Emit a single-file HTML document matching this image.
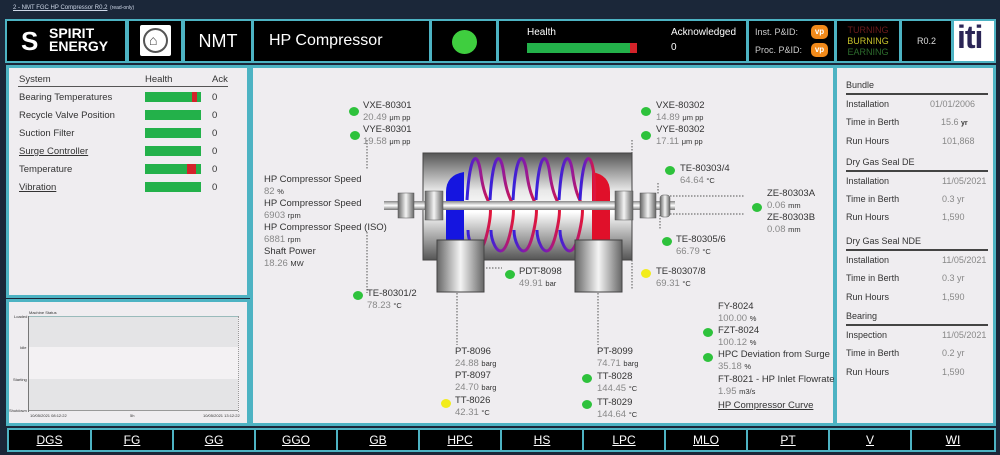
<!DOCTYPE html>
<html><head><meta charset="utf-8"><style>
*{margin:0;padding:0;box-sizing:border-box}
body{width:1000px;height:455px;background:#1b2739;font-family:"Liberation Sans",sans-serif;position:relative;overflow:hidden}
.a{position:absolute}
.hb{position:absolute;background:#000;border:2px solid #4db3c3;top:19px;height:44px;color:#fff}
.pn{position:absolute;background:#efedf0;border:3px solid #4db3c3}
.t{position:absolute;font-size:9.5px;color:#333;line-height:12px;white-space:nowrap}
.t i{font-style:normal;color:#888}
.t b{font-weight:normal;font-size:7.5px;color:#333}
.dot{position:absolute;width:10px;height:9px;border-radius:50%;background:#2ec23c}
.y{background:#f2ec1a}
.bar{position:absolute;width:56px;height:10px;background:#23b14a}
.nav{position:absolute;top:428px;height:24px;background:#000;border:2px solid #4db3c3;color:#fff;font-size:12px;text-align:center;line-height:20px;text-decoration:underline}
.rl{position:absolute;font-size:9px;color:#333;left:846px}
.rv{position:absolute;font-size:9px;color:#888;left:920px}
.sec{position:absolute;left:846px;width:142px;font-size:9px;color:#333;border-bottom:2px solid #444;padding-bottom:3px}
</style></head><body>
<div class="a" style="left:13px;top:5px;font-size:6px;color:#cfd8e8;text-decoration:underline">2 - NMT FGC HP Compressor R0.2</div>
<div class="a" style="left:110px;top:5px;font-size:5px;color:#cfd8e8">(read-only)</div>

<div class="hb" style="left:5px;width:122px;font-weight:bold;font-size:14px;line-height:13px;padding:6px 0 0 42px">SPIRIT<br>ENERGY
<div class="a" style="left:14px;top:7px;font-size:26px;line-height:26px">S</div></div>
<div class="hb" style="left:127px;width:56px"><div class="a" style="left:11px;top:4px;width:31px;height:31px;background:#fff;border-radius:2px"><div class="a" style="left:3px;top:3px;width:25px;height:25px;border:2px solid #555;border-radius:50%"></div><div class="a" style="left:9px;top:8px;font-size:14px;color:#444;line-height:14px">⌂</div></div></div>
<div class="hb" style="left:183px;width:70px;font-size:18px;line-height:40px;text-align:center">NMT</div>
<div class="hb" style="left:252px;width:179px;font-size:16px;line-height:40px;padding-left:15px">HP Compressor</div>
<div class="hb" style="left:430px;width:68px"><div class="a" style="left:20px;top:9px;width:25px;height:24px;border-radius:50%;background:#3fce3f"></div></div>
<div class="hb" style="left:497px;width:251px;font-size:10px">
<div class="a" style="left:28px;top:6px">Health</div><div class="a" style="left:28px;top:22px;width:103px;height:10px;background:#23b14a"></div><div class="a" style="left:131px;top:22px;width:7px;height:10px;background:#d3232a"></div>
<div class="a" style="left:172px;top:6px">Acknowledged</div><div class="a" style="left:172px;top:21px">0</div></div>
<div class="hb" style="left:747px;width:89px;font-size:9px;color:#ccc">
<div class="a" style="left:6px;top:6px">Inst. P&amp;ID:</div><div class="a" style="left:6px;top:24px">Proc. P&amp;ID:</div>
<div class="a" style="left:62px;top:4px;width:17px;height:14px;background:#f28a1a;border-radius:5px;font-size:8px;color:#fff;font-weight:bold;text-align:center;line-height:14px">vp</div>
<div class="a" style="left:62px;top:22px;width:17px;height:14px;background:#f28a1a;border-radius:5px;font-size:8px;color:#fff;font-weight:bold;text-align:center;line-height:14px">vp</div></div>
<div class="hb" style="left:835px;width:66px;font-size:9px;text-align:center;line-height:11px;padding-top:4px"><span style="color:#6b1b1b">TURNING</span><br><span style="color:#c6c22a">BURNING</span><br><span style="color:#2c6b2c">EARNING</span></div>
<div class="hb" style="left:900px;width:53px;font-size:9px;color:#ddd;line-height:40px;text-align:center">R0.2</div>
<div class="hb" style="left:952px;width:44px;background:#fff"><div class="a" style="left:3px;top:-2px;font-size:32px;color:#2b2556;font-weight:bold;letter-spacing:-1px">iti</div></div>

<!-- left panel -->
<div class="pn" style="left:6px;top:65px;width:244px;height:233px"></div>
<div class="t" style="left:19px;top:74px">System</div><div class="t" style="left:145px;top:74px">Health</div><div class="t" style="left:212px;top:74px">Ack</div>
<div class="a" style="left:18px;top:86px;width:210px;height:1px;background:#555"></div>
<div class="t" style="left:19px;top:92px">Bearing Temperatures</div><div class="bar" style="left:145px;top:92px"></div><div class="a" style="left:192px;top:92px;width:5px;height:10px;background:#d3232a"></div><div class="t" style="left:212px;top:92px">0</div>
<div class="t" style="left:19px;top:110px">Recycle Valve Position</div><div class="bar" style="left:145px;top:110px"></div><div class="t" style="left:212px;top:110px">0</div>
<div class="t" style="left:19px;top:128px">Suction Filter</div><div class="bar" style="left:145px;top:128px"></div><div class="t" style="left:212px;top:128px">0</div>
<div class="t" style="left:19px;top:146px;text-decoration:underline">Surge Controller</div><div class="bar" style="left:145px;top:146px"></div><div class="t" style="left:212px;top:146px">0</div>
<div class="t" style="left:19px;top:164px">Temperature</div><div class="bar" style="left:145px;top:164px"></div><div class="a" style="left:187px;top:164px;width:9px;height:10px;background:#d3232a"></div><div class="t" style="left:212px;top:164px">0</div>
<div class="t" style="left:19px;top:182px;text-decoration:underline">Vibration</div><div class="bar" style="left:145px;top:182px"></div><div class="t" style="left:212px;top:182px">0</div>

<!-- chart panel -->
<div class="pn" style="left:6px;top:299px;width:244px;height:127px"></div>
<div class="a" style="left:29px;top:316px;width:209px;height:31px;background:#e4e4e6;border-top:1px solid #9bb"></div>
<div class="a" style="left:29px;top:347px;width:209px;height:32px;background:#f3f1f3"></div>
<div class="a" style="left:29px;top:379px;width:209px;height:32px;background:#e4e4e6;border-bottom:1px solid #999"></div>
<div class="a" style="left:28px;top:316px;width:1px;height:96px;background:#777"></div>
<div class="a" style="left:238px;top:316px;height:96px;border-left:1px dotted #999"></div>
<div class="a" style="left:29px;top:310px;font-size:4px;color:#333">Machine Status</div>
<div class="a" style="left:14px;top:314px;font-size:4px;color:#333">Loaded</div>
<div class="a" style="left:20px;top:345px;font-size:4px;color:#333">Idle</div>
<div class="a" style="left:13px;top:377px;font-size:4px;color:#333">Starting</div>
<div class="a" style="left:9px;top:408px;font-size:4px;color:#333">Shutdown</div>
<div class="a" style="left:30px;top:413px;font-size:4px;color:#333">10/05/2021 08:12:22</div>
<div class="a" style="left:130px;top:413px;font-size:4px;color:#333">5h</div>
<div class="a" style="left:203px;top:413px;font-size:4px;color:#333">10/05/2021 13:12:22</div>

<!-- center panel -->
<div class="pn" style="left:250px;top:65px;width:586px;height:361px"></div>
<svg class="a" style="left:0;top:0" width="1000" height="455">
<defs>
<linearGradient id="cas" x1="0" y1="0" x2="0" y2="1"><stop offset="0" stop-color="#555"/><stop offset="0.35" stop-color="#e8e8e8"/><stop offset="0.55" stop-color="#fff"/><stop offset="1" stop-color="#555"/></linearGradient>
<linearGradient id="noz" x1="0" y1="0" x2="1" y2="0"><stop offset="0" stop-color="#666"/><stop offset="0.5" stop-color="#f4f4f4"/><stop offset="1" stop-color="#666"/></linearGradient>
<linearGradient id="sh" x1="0" y1="0" x2="0" y2="1"><stop offset="0" stop-color="#888"/><stop offset="0.5" stop-color="#fff"/><stop offset="1" stop-color="#777"/></linearGradient>
<linearGradient id="pur" x1="0" y1="0" x2="1" y2="0"><stop offset="0" stop-color="#3322dd"/><stop offset="0.5" stop-color="#8a1aa6"/><stop offset="1" stop-color="#e0163a"/></linearGradient>
</defs>
<g stroke="#555" stroke-width="1" stroke-dasharray="1.5,1.5" fill="none">
<path d="M367 140V170M367 232V293"/><path d="M632 140V290"/><path d="M658 183V195M660 215V230"/>
<path d="M670 196H745M670 214H745"/><path d="M486 268H502M529 268H545"/>
<path d="M457 290V345M598 290V345"/>
</g>
<rect x="423" y="153" width="209" height="107" fill="url(#cas)" stroke="#444"/>
<path d="M446 240V192Q446 175 464 172V240Z" fill="#1515e0"/>
<path d="M610 240V192Q610 175 592 172V240Z" fill="#e0102a"/>
<g fill="none" stroke="url(#pur)" stroke-width="3">
<path d="M467 200C470 150 478 150 481 175C484 195 488 200 490 205C492 215 486 245 480 250C474 255 468 240 468 230"/>
<path d="M490 200C493 150 501 150 504 175C507 195 511 200 513 205C515 215 509 245 503 250C497 255 491 240 491 230"/>
<path d="M513 200C516 150 524 150 527 175C530 195 534 200 536 205C538 215 532 245 526 250C520 255 514 240 514 230"/>
<path d="M536 200C539 150 547 150 550 175C553 195 557 200 559 205C561 215 555 245 549 250C543 255 537 240 537 230"/>
<path d="M559 200C562 150 570 150 573 175C576 195 580 200 582 205C584 215 578 245 572 250C566 255 560 240 560 230"/>
<path d="M580 200C583 150 591 150 594 175C595 185 595 195 594 205"/>
</g>
<rect x="384" y="201" width="291" height="9" fill="url(#sh)"/>
<rect x="398" y="193" width="16" height="25" fill="url(#noz)" stroke="#555" stroke-width=".5"/>
<rect x="425" y="191" width="18" height="29" fill="url(#noz)" stroke="#555" stroke-width=".5"/>
<rect x="615" y="191" width="18" height="29" fill="url(#noz)" stroke="#555" stroke-width=".5"/>
<rect x="640" y="193" width="16" height="25" fill="url(#noz)" stroke="#555" stroke-width=".5"/>
<rect x="660" y="195" width="10" height="22" rx="3" fill="url(#noz)" stroke="#555" stroke-width=".5"/>
<rect x="437" y="240" width="47" height="52" fill="url(#noz)" stroke="#444"/>
<rect x="575" y="240" width="47" height="52" fill="url(#noz)" stroke="#444"/>
</svg>
<div class="dot" style="left:349px;top:107px"></div><div class="t" style="left:363px;top:100px">VXE-80301<br><i>20.49 </i><b>μm pp</b></div>
<div class="dot" style="left:350px;top:131px"></div><div class="t" style="left:363px;top:124px">VYE-80301<br><i>19.58 </i><b>μm pp</b></div>
<div class="dot" style="left:641px;top:107px"></div><div class="t" style="left:656px;top:100px">VXE-80302<br><i>14.89 </i><b>μm pp</b></div>
<div class="dot" style="left:641px;top:131px"></div><div class="t" style="left:656px;top:124px">VYE-80302<br><i>17.11 </i><b>μm pp</b></div>
<div class="dot" style="left:665px;top:166px"></div><div class="t" style="left:680px;top:163px">TE-80303/4<br><i>64.64 </i><b>°C</b></div>
<div class="t" style="left:264px;top:174px">HP Compressor Speed<br><i>82 </i><b>%</b></div>
<div class="t" style="left:264px;top:198px">HP Compressor Speed<br><i>6903 </i><b>rpm</b></div>
<div class="t" style="left:264px;top:222px">HP Compressor Speed (ISO)<br><i>6881 </i><b>rpm</b></div>
<div class="t" style="left:264px;top:246px">Shaft Power<br><i>18.26 </i><b>MW</b></div>
<div class="t" style="left:767px;top:188px">ZE-80303A<br><i>0.06 </i><b>mm</b></div>
<div class="dot" style="left:752px;top:203px"></div>
<div class="t" style="left:767px;top:212px">ZE-80303B<br><i>0.08 </i><b>mm</b></div>
<div class="dot" style="left:662px;top:237px"></div><div class="t" style="left:676px;top:234px">TE-80305/6<br><i>66.79 </i><b>°C</b></div>
<div class="dot y" style="left:641px;top:269px"></div><div class="t" style="left:656px;top:266px">TE-80307/8<br><i>69.31 </i><b>°C</b></div>
<div class="dot" style="left:505px;top:270px"></div><div class="t" style="left:519px;top:266px">PDT-8098<br><i>49.91 </i><b>bar</b></div>
<div class="dot" style="left:353px;top:291px"></div><div class="t" style="left:367px;top:288px">TE-80301/2<br><i>78.23 </i><b>°C</b></div>
<div class="t" style="left:455px;top:346px">PT-8096<br><i>24.88 </i><b>barg</b></div>
<div class="t" style="left:455px;top:370px">PT-8097<br><i>24.70 </i><b>barg</b></div>
<div class="dot y" style="left:441px;top:399px"></div><div class="t" style="left:455px;top:395px">TT-8026<br><i>42.31 </i><b>°C</b></div>
<div class="t" style="left:597px;top:346px">PT-8099<br><i>74.71 </i><b>barg</b></div>
<div class="dot" style="left:582px;top:374px"></div><div class="t" style="left:597px;top:371px">TT-8028<br><i>144.45 </i><b>°C</b></div>
<div class="dot" style="left:582px;top:400px"></div><div class="t" style="left:597px;top:397px">TT-8029<br><i>144.64 </i><b>°C</b></div>
<div class="t" style="left:718px;top:301px">FY-8024<br><i>100.00 </i><b>%</b></div>
<div class="dot" style="left:703px;top:328px"></div><div class="t" style="left:718px;top:325px">FZT-8024<br><i>100.12 </i><b>%</b></div>
<div class="dot" style="left:703px;top:353px"></div><div class="t" style="left:718px;top:349px">HPC Deviation from Surge<br><i>35.18 </i><b>%</b></div>
<div class="t" style="left:718px;top:374px">FT-8021 - HP Inlet Flowrate<br><i>1.95 </i><b>m3/s</b></div>
<div class="t" style="left:718px;top:400px;text-decoration:underline">HP Compressor Curve</div>

<!-- right panel -->
<div class="pn" style="left:834px;top:65px;width:162px;height:361px"></div>
<div class="sec" style="top:80px">Bundle</div>
<div class="rl" style="top:99px">Installation</div><div class="rv" style="top:99px;left:930px">01/01/2006</div>
<div class="rl" style="top:117px">Time in Berth</div><div class="rv" style="top:117px;left:941px">15.6 <b style="color:#333;font-size:7px">yr</b></div>
<div class="rl" style="top:136px">Run Hours</div><div class="rv" style="top:136px;left:942px">101,868</div>
<div class="sec" style="top:157px">Dry Gas Seal DE</div>
<div class="rl" style="top:176px">Installation</div><div class="rv" style="top:176px;left:942px">11/05/2021</div>
<div class="rl" style="top:194px">Time in Berth</div><div class="rv" style="top:194px;left:942px">0.3 yr</div>
<div class="rl" style="top:212px">Run Hours</div><div class="rv" style="top:212px;left:942px">1,590</div>
<div class="sec" style="top:236px">Dry Gas Seal NDE</div>
<div class="rl" style="top:255px">Installation</div><div class="rv" style="top:255px;left:942px">11/05/2021</div>
<div class="rl" style="top:273px">Time in Berth</div><div class="rv" style="top:273px;left:942px">0.3 yr</div>
<div class="rl" style="top:292px">Run Hours</div><div class="rv" style="top:292px;left:942px">1,590</div>
<div class="sec" style="top:311px">Bearing</div>
<div class="rl" style="top:330px">Inspection</div><div class="rv" style="top:330px;left:942px">11/05/2021</div>
<div class="rl" style="top:348px">Time in Berth</div><div class="rv" style="top:348px;left:942px">0.2 yr</div>
<div class="rl" style="top:367px">Run Hours</div><div class="rv" style="top:367px;left:942px">1,590</div>

<!-- nav -->
<div class="nav" style="left:7px;width:85px">DGS</div>
<div class="nav" style="left:90px;width:84px">FG</div>
<div class="nav" style="left:172px;width:84px">GG</div>
<div class="nav" style="left:254px;width:84px">GGO</div>
<div class="nav" style="left:336px;width:84px">GB</div>
<div class="nav" style="left:418px;width:84px">HPC</div>
<div class="nav" style="left:500px;width:84px">HS</div>
<div class="nav" style="left:582px;width:84px">LPC</div>
<div class="nav" style="left:664px;width:84px">MLO</div>
<div class="nav" style="left:746px;width:84px">PT</div>
<div class="nav" style="left:828px;width:84px">V</div>
<div class="nav" style="left:910px;width:86px">WI</div>
</body></html>
